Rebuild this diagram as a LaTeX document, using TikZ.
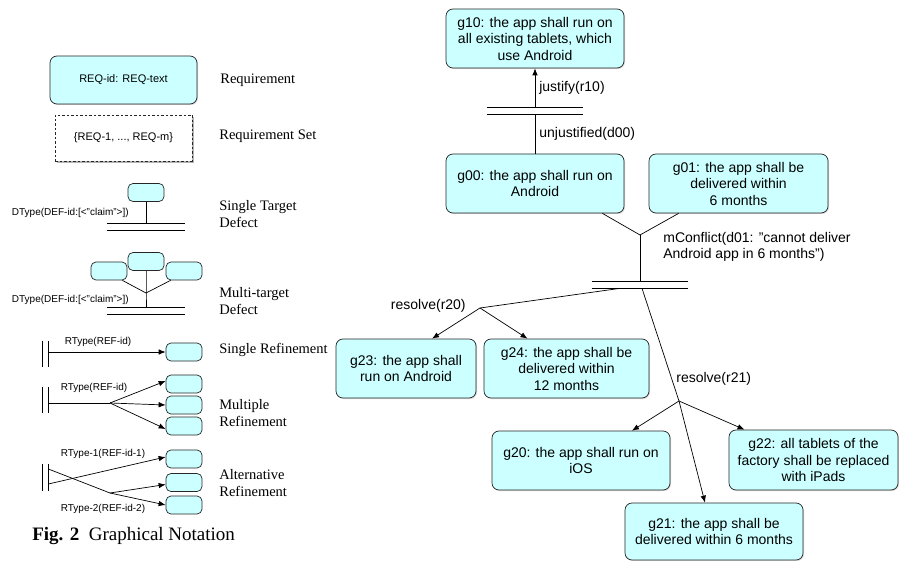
\documentclass[tikz,border=0pt]{standalone}
\usepackage{fontspec}
\setmainfont{Liberation Serif}
\setsansfont{Liberation Sans}
\usetikzlibrary{arrows,arrows.meta,positioning,calc,shadows}

\definecolor{reqfill}{HTML}{CCFFFF}

\begin{document}
\begin{tikzpicture}[x=1pt, y=-1pt,
            every node/.style={font=\sffamily\fontsize{14}{16.5}\selectfont, inner sep=2pt},
            req/.style={draw=black!85, line width=0.7pt, fill=reqfill, rounded corners=7pt, align=center,
                        drop shadow={opacity=0.3, shadow xshift=1pt, shadow yshift=-1pt}},
            reqset/.style={draw=black!85, line width=0.7pt, dash pattern=on 2.5pt off 2pt, fill=white, align=center,
                        drop shadow={opacity=0.6, shadow xshift=1.5pt, shadow yshift=-2.5pt}},
            tgt/.style={draw=black!85, line width=0.7pt, fill=reqfill, rounded corners=5pt,
                        minimum width=36pt, minimum height=18pt},
            hbar/.style={minimum width=#1, minimum height=6pt, inner sep=0pt},
            vbar/.style={minimum width=5pt, minimum height=26pt, inner sep=0pt},
            legend/.style={font=\rmfamily\fontsize{14.5}{17}\selectfont, anchor=west, align=left},
            small/.style={font=\sffamily\fontsize{10}{12}\selectfont},
            every path/.style={line width=0.7pt},
            arr/.style={-{Latex[length=7pt,width=5.5pt]}}]
        \useasboundingbox (0,0) rectangle (899,561);

        % legend: requirement and requirement set
        \node[req, minimum width=147pt, minimum height=48pt, font=\sffamily\fontsize{11}{13}\selectfont]
            (lreq) at (123.5,80) {REQ-id: REQ-text};
        \node[legend] at (218,80) {Requirement};
        \node[reqset, minimum width=137pt, minimum height=46pt, font=\sffamily\fontsize{11}{13}\selectfont]
            (lset) at (123.5,138) {\{REQ-1, ..., REQ-m\}};
        \node[legend] at (217,136) {Requirement Set};

        % legend: single target defect
        \node[tgt] (st1) at (146,192.5) {};
        \node[hbar=78pt] (sd) at (146,227) {};
        \draw (sd.north west) -- (sd.north east) (sd.south west) -- (sd.south east);
        \draw (st1.south) -- (sd.north);
        \node[small, anchor=east] at (131,213) {DType(DEF-id:[<"claim">])};
        \node[legend] at (217,214) {Single Target\\Defect};

        % legend: multi-target defect
        \node[tgt] (mt2) at (146,261.5) {};
        \node[tgt] (mt1) at (109,271) {};
        \node[tgt] (mt3) at (184,271) {};
        \coordinate (jm) at (146,293);
        \node[hbar=78pt] (md) at (146,310.5) {};
        \draw (md.north west) -- (md.north east) (md.south west) -- (md.south east);
        \draw (mt2.south) -- (jm) -- (md.north);
        \draw ([xshift=-5pt]mt1.south east) -- (jm) -- ([xshift=5pt]mt3.south west);
        \node[small, anchor=east] at (131,300) {DType(DEF-id:[<"claim">])};
        \node[legend] at (217,301) {Multi-target\\Defect};

        % legend: single refinement
        \node[vbar] (vb1) at (45.5,354) {};
        \draw (vb1.north west) -- (vb1.south west) (vb1.north east) -- (vb1.south east);
        \node[tgt] (sr1) at (184,352) {};
        \draw[arr] (vb1.east |- sr1.west) -- (sr1.west);
        \node[small] at (98,342) {RType(REF-id)};
        \node[legend] at (217,350) {Single Refinement};

        % legend: multiple refinement
        \node[vbar] (vb2) at (45.5,400) {};
        \draw (vb2.north west) -- (vb2.south west) (vb2.north east) -- (vb2.south east);
        \node[tgt] (mr1) at (184,384) {};
        \node[tgt] (mr2) at (184,405) {};
        \node[tgt] (mr3) at (184,426) {};
        \coordinate (jr) at (110,403);
        \draw (vb2.east |- jr) -- (jr);
        \draw[arr] (jr) -- ([yshift=3pt]mr1.west);
        \draw[arr] (jr) -- (mr2.west);
        \draw[arr] (jr) -- ([yshift=-3pt]mr3.west);
        \node[small] at (94,388) {RType(REF-id)};
        \node[legend] at (217,413) {Multiple\\Refinement};

        % legend: alternative refinement
        \node[vbar] (vb3) at (45.5,477.5) {};
        \draw (vb3.north west) -- (vb3.south west) (vb3.north east) -- (vb3.south east);
        \node[tgt] (ar1) at (184,459) {};
        \node[tgt] (ar2) at (184,482.5) {};
        \node[tgt] (ar3) at (184,505) {};
        \coordinate (ja) at (110,493);
        \draw[arr] ([yshift=-6.5pt]vb3.east) -- ([yshift=2pt]ar1.west);
        \draw ([yshift=8.5pt]vb3.east) -- (ja);
        \draw[arr] (ja) -- ([yshift=-2pt]ar2.west);
        \draw[arr] (ja) -- (ar3.west);
        \node[small] at (103,454) {RType-1(REF-id-1)};
        \node[small] at (103,509) {RType-2(REF-id-2)};
        \node[legend] at (217,483) {Alternative\\Refinement};

        \node[anchor=west, font=\rmfamily\fontsize{19}{23}\selectfont, inner sep=0pt]
            (cap) at (32,536) {\textbf{Fig. 2}\enspace Graphical Notation};

        % goal model
        \node[req, minimum width=178pt, minimum height=59pt] (g10) at (535,38.5)
            {g10: the app shall run on\\all existing tablets, which\\use Android};
        \node[hbar=96pt] (d00) at (535,111) {};
        \draw (d00.north west) -- (d00.north east) (d00.south west) -- (d00.south east);
        \node[req, minimum width=178pt, minimum height=59pt] (g00) at (535,183.5)
            {g00: the app shall run on\\Android};
        \node[req, minimum width=179pt, minimum height=59pt] (g01) at (738.5,183.5)
            {g01: the app shall be\\delivered within\\6 months};
        \draw[arr] (d00.north) -- node[anchor=west, xshift=2pt] {justify(r10)} (g10.south);
        \draw (g00.north) -- node[anchor=west, xshift=2pt] {unjustified(d00)} (d00.south);

        \coordinate (j01) at (640,235);
        \node[hbar=96pt] (d01) at (640,285) {};
        \draw (d01.north west) -- (d01.north east) (d01.south west) -- (d01.south east);
        \draw ([xshift=-22pt]g00.south east) -- (j01) -- ([xshift=30pt]g01.south west);
        \draw (j01) -- (d01.north);
        \node[anchor=north west, align=left] at (661,230)
            {mConflict(d01: "cannot deliver\\Android app in 6 months")};

        \node[req, minimum width=140pt, minimum height=59pt] (g23) at (406,368.5)
            {g23: the app shall\\run on Android};
        \node[req, minimum width=165pt, minimum height=59pt] (g24) at (566.5,368.5)
            {g24: the app shall be\\delivered within\\12 months};
        \coordinate (r20) at (480,308);
        \draw ([xshift=-20pt]d01.south) -- (r20);
        \draw[arr] (r20) -- ([xshift=26pt]g23.north);
        \draw[arr] (r20) -- ([xshift=-39pt]g24.north);
        \node[anchor=east] at (468,306) {resolve(r20)};

        \node[req, minimum width=178pt, minimum height=59pt] (g20) at (581,460.5)
            {g20: the app shall run on\\iOS};
        \node[req, minimum width=169pt, minimum height=60pt] (g22) at (813.5,460)
            {g22: all tablets of the\\factory shall be replaced\\with iPads};
        \node[req, minimum width=178pt, minimum height=57pt] (g21) at (714,531.5)
            {g21: the app shall be\\delivered within 6 months};
        \coordinate (r21) at (679,401);
        \draw ([xshift=2pt]d01.south) -- (r21);
        \draw[arr] (r21) -- ([xshift=-9pt]g21.north);
        \draw[arr] (r21) -- ([xshift=51pt]g20.north);
        \draw[arr] (r21) -- ([xshift=-69pt]g22.north);
        \node[anchor=west] at (674,379) {resolve(r21)};
\end{tikzpicture}
\end{document}
